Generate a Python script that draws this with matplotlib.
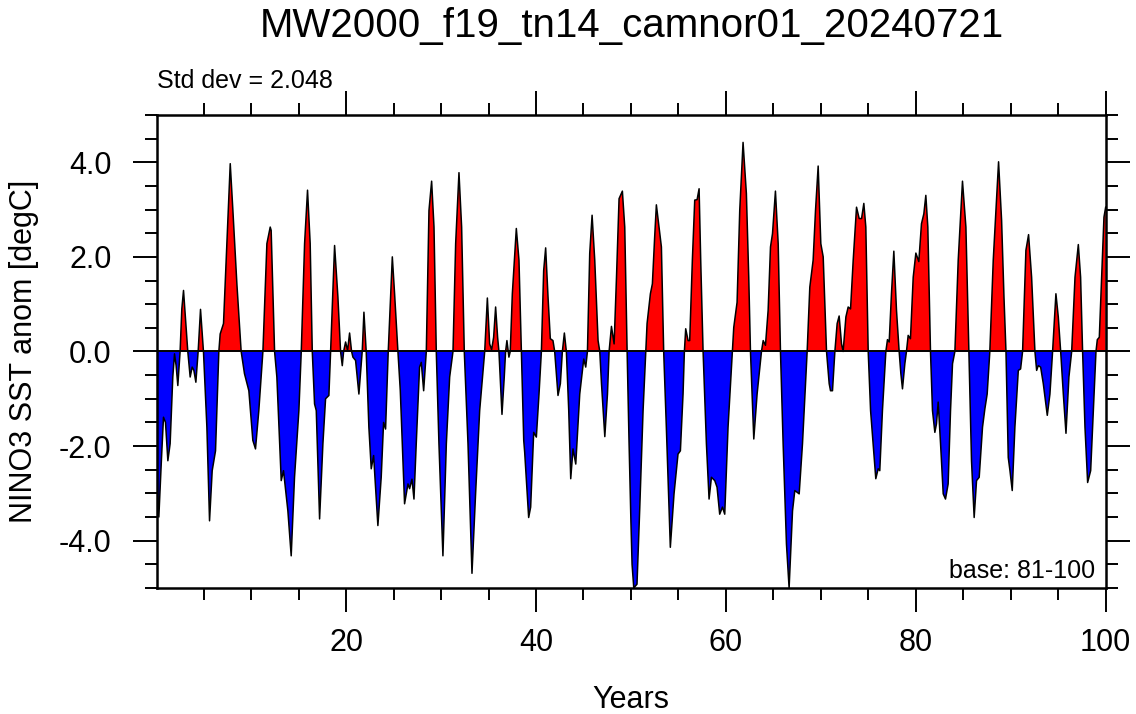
import numpy as np
import matplotlib
matplotlib.use("Agg")
import matplotlib.pyplot as plt
from matplotlib.ticker import MultipleLocator, FixedLocator

plt.rcParams['font.family'] = ['Liberation Sans', 'DejaVu Sans']
plt.rcParams['axes.unicode_minus'] = False

# ---------- data -----------------------------------------------------------
title = "MW2000_f19_tn14_camnor01_20240721"
std_txt = "Std dev = 2.048"
base_txt = "base: 81-100"

years = [0.05, 0.28, 0.55, 0.77, 0.98, 1.23, 1.47, 1.75, 1.93, 2.1, 2.28, 2.52, 2.7, 2.88, 3.05,
         3.33, 3.58, 3.79, 3.97, 4.18, 4.42, 4.67, 4.98, 5.34, 5.62, 5.9, 6.25, 6.6, 6.74, 7.09,
         7.44, 7.8, 8.08, 8.5, 8.95, 9.3, 9.76, 10.18, 10.46, 10.81, 11.24, 11.66, 12.01, 12.11,
         12.47, 12.71, 13.17, 13.41, 13.87, 14.22, 14.57, 15.03, 15.28, 15.63, 15.94, 16.22,
         16.44, 16.68, 16.86, 17.21, 17.56, 17.84, 18.19, 18.37, 18.79, 19.14, 19.42, 19.6,
         19.74, 19.95, 20.16, 20.37, 20.58, 20.72, 21.0, 21.35, 21.6, 21.7, 21.88, 22.12, 22.4,
         22.65, 22.9, 23.35, 23.7, 23.95, 24.16, 24.44, 24.87, 25.11, 25.46, 25.71, 26.16,
         26.52, 26.69, 26.94, 27.15, 27.39, 27.74, 27.92, 28.17, 28.45, 28.73, 29.01, 29.26,
         29.5, 29.78, 30.2, 30.56, 30.91, 31.26, 31.54, 31.89, 32.17, 32.45, 32.84, 33.26,
         33.64, 34.07, 34.6, 34.88, 35.12, 35.33, 35.54, 35.75, 35.96, 36.1, 36.42, 36.66,
         36.8, 36.94, 37.15, 37.29, 37.51, 37.93, 38.21, 38.46, 38.71, 38.81, 39.23, 39.44,
         39.76, 40.04, 40.32, 40.57, 40.81, 41.02, 41.27, 41.51, 41.79, 41.97, 42.32, 42.57,
         42.78, 42.99, 43.2, 43.45, 43.66, 43.9, 44.19, 44.61, 45.03, 45.24, 45.42, 45.66,
         45.91, 46.19, 46.54, 46.72, 46.9, 47.25, 47.53, 47.7, 47.95, 48.23, 48.48, 48.75,
         49.1, 49.35, 49.6, 49.8, 50.0, 50.12, 50.3, 50.64, 50.92, 51.28, 51.56, 51.7, 52.05,
         52.26, 52.5, 52.68, 52.96, 53.21, 53.45, 53.73, 54.15, 54.54, 54.96, 55.21, 55.49,
         55.63, 55.77, 56.02, 56.19, 56.47, 56.72, 56.97, 57.18, 57.35, 57.6, 57.95, 58.23,
         58.48, 58.83, 59.07, 59.35, 59.64, 59.88, 60.23, 60.69, 60.83, 61.18, 61.46, 61.81,
         62.16, 62.41, 62.59, 62.94, 63.29, 63.75, 63.93, 64.17, 64.45, 64.7, 64.91, 65.22,
         65.51, 65.75, 66.03, 66.38, 66.66, 67.02, 67.26, 67.72, 68.07, 68.56, 68.84, 69.19,
         69.44, 69.72, 70.0, 70.25, 70.6, 70.88, 71.02, 71.23, 71.48, 71.72, 71.93, 72.18,
         72.35, 72.64, 72.88, 73.13, 73.41, 73.76, 74.04, 74.29, 74.53, 74.74, 74.99, 75.24,
         75.51, 75.79, 76.04, 76.21, 76.49, 76.85, 77.02, 77.2, 77.44, 77.69, 77.97, 78.25,
         78.43, 78.6, 78.85, 79.02, 79.2, 79.44, 79.73, 80.01, 80.32, 80.6, 80.85, 81.06,
         81.27, 81.55, 81.76, 82.01, 82.18, 82.36, 82.61, 82.89, 83.13, 83.41, 83.66, 83.87,
         84.12, 84.47, 84.92, 85.28, 85.59, 85.87, 86.15, 86.4, 86.68, 87.03, 87.28, 87.52,
         87.8, 88.16, 88.72, 89.04, 89.29, 89.5, 89.74, 89.92, 90.16, 90.44, 90.8, 91.04,
         91.25, 91.6, 91.88, 92.2, 92.55, 92.73, 92.9, 93.15, 93.43, 93.85, 94.13, 94.41,
         94.76, 95.01, 95.26, 95.54, 95.82, 96.13, 96.42, 96.77, 97.12, 97.36, 97.57, 97.82,
         98.1, 98.42, 98.7, 98.98, 99.12, 99.33, 99.58, 99.82, 100.0]

anom = [-2.7, -3.5, -2.3, -1.39, -1.5, -2.31, -1.95, -0.54, -0.05, -0.3, -0.72, 0.0, 0.9, 1.29, 0.8,
        0.0, -0.54, -0.33, -0.4, -0.65, 0.0, 0.89, 0.0, -1.6, -3.58, -2.52, -2.1, 0.0, 0.37, 0.59,
        2.28, 3.97, 2.98, 1.43, 0.0, -0.47, -0.83, -1.88, -2.06, -1.25, 0.0, 2.28, 2.63, 2.56,
        0.0, -0.54, -2.73, -2.52, -3.37, -4.32, -2.66, -1.25, 0.0, 2.28, 3.41, 2.28,
        0.0, -1.11, -1.25, -3.54, -1.95, -1.0, -0.93, 0.0, 2.24, 1.15, 0.0, -0.3,
        0.0, 0.2, 0.02, 0.39, 0.0, -0.12, -0.19, -0.9, -0.26, 0.0, 0.83, 0.0, -1.6,
        -2.48, -2.2, -3.68, -2.66, -1.5, -1.64, 0.0, 2.0, 1.22, 0.0, -0.83, -3.22,
        -2.8, -2.9, -2.7, -3.12, -1.95, -0.33, -0.23, -0.83, 0.0, 2.98, 3.6, 2.63,
        0.0, -1.95, -4.32, -1.95, -0.54, 0.0, 2.28, 3.78, 2.63, 0.0, -1.95, -4.69,
        -3.01, -1.25, 0.0, 1.13, 0.16, 0.04, 0.3, 0.94, 0.3, 0.0, -1.33, -0.54,
        0.0, 0.23, -0.12, 0.0, 1.22, 2.6, 1.93, 0.0, -1.88, -2.13, -3.51, -3.29,
        -1.71, -1.81, -0.9, 0.0, 1.71, 2.19, 1.15, 0.27, 0.23, 0.0, -0.93, -0.68,
        0.0, 0.39, 0.0, -1.25, -2.69, -2.06, -2.38, -0.9, -0.16, -0.33, 0.0, 2.07,
        2.88, 1.93, 0.23, 0.0, -0.68, -1.8, -0.9, 0.0, 0.53, 0.16, 1.57, 3.23,
        3.39, 2.63, 0.0, -1.9, -3.6, -4.5, -5.0, -4.92, -3.37, -1.25, 0.0, 0.59, 1.22,
        1.43, 2.42, 3.1, 2.63, 2.21, 0.0, -1.6, -4.14, -3.01, -2.17, -2.1, -0.9,
        0.0, 0.48, 0.23, 0.23, 1.93, 3.2, 3.21, 3.44, 1.93, 0.0, -1.95, -3.12,
        -2.66, -2.73, -2.87, -3.44, -3.29, -3.44, -1.6, 0.0, 0.51, 1.04, 2.98, 4.42,
        3.34, 1.57, 0.0, -1.85, -0.9, 0.0, 0.23, 0.13, 0.87, 2.21, 2.49, 3.39,
        2.28, 0.0, -1.95, -4.07, -5.0, -3.37, -2.94, -3.01, -1.95, 0.0, 1.36, 1.93,
        2.98, 3.92, 2.28, 2.0, 0.0, -0.68, -0.83, -0.83, 0.0, 0.59, 0.75, 0.16,
        0.0, 0.73, 0.94, 0.9, 1.93, 3.05, 2.81, 2.81, 3.13, 2.63, 0.0, -1.25,
        -1.95, -2.69, -2.48, -2.52, -1.25, 0.0, 0.25, 0.2, 1.22, 2.12, 0.87, 0.0,
        -0.47, -0.79, -0.26, 0.0, 0.34, 0.27, 1.57, 2.08, 1.9, 2.7, 2.91, 3.3,
        2.63, 0.0, -1.25, -1.71, -1.53, -1.07, -1.95, -3.01, -3.12, -2.8, -1.25, -0.26,
        0.0, 1.93, 3.6, 2.63, 0.0, -2.31, -3.51, -2.73, -2.66, -1.6, -1.21, -0.9,
        0.0, 1.93, 4.01, 2.77, 1.15, 0.0, -2.24, -2.52, -2.94, -1.6, -0.4, -0.37,
        0.0, 2.14, 2.47, 1.57, 0.0, -0.4, -0.3, -0.33, -0.68, -1.35, -0.9, 0.0,
        1.22, 0.73, 0.0, -0.9, -1.73, -0.54, 0.0, 1.57, 2.26, 1.57, 0.0, -1.6,
        -2.77, -2.52, -1.25, 0.0, 0.25, 0.3, 1.57, 2.84, 3.05]

x_ticks = [20, 40, 60, 80, 100]
y_ticks = [-4.0, -2.0, 0.0, 2.0, 4.0]

# ---------------------------------------------------------------------------
x = np.array(years)
y = np.array(anom)

fig = plt.figure(figsize=(11.36, 7.14), dpi=100)
ax = fig.add_axes([0.1379, 0.1765, 0.8354, 0.6625])

ax.fill_between(x, y, 0, where=y >= 0, interpolate=True, color='#ff0000', lw=0)
ax.fill_between(x, y, 0, where=y <= 0, interpolate=True, color='#0000ff', lw=0)
ax.plot(x, y, color='black', lw=1.1)
ax.axhline(0, color='black', lw=1.4)

ax.set_xlim(0.05, 100)
ax.set_ylim(-5, 5)
ax.xaxis.set_major_locator(FixedLocator(x_ticks))
ax.xaxis.set_minor_locator(MultipleLocator(5))
ax.yaxis.set_major_locator(FixedLocator(y_ticks))
ax.yaxis.set_minor_locator(MultipleLocator(0.5))
ax.set_yticklabels([f"{v:.1f}" for v in y_ticks])

ax.tick_params(which='both', direction='out', top=True, right=True,
               labeltop=False, labelright=False, width=1.4)
ax.tick_params(which='major', length=17.5, labelsize=22)
ax.tick_params(which='minor', length=8.5)
ax.tick_params(axis='x', which='major', pad=11)
ax.tick_params(axis='y', which='major', pad=15)
for s in ax.spines.values():
    s.set_linewidth(1.8)

ax.set_xlabel("Years", fontsize=22, labelpad=20)
ax.set_ylabel("NINO3 SST anom [degC]", fontsize=22, labelpad=14)

fig.text(0.556, 0.948, title, fontsize=29, ha='center', va='baseline')
fig.text(0.138, 0.877, std_txt, fontsize=18, ha='left', va='baseline')
ax.text(0.9887, 0.0205, base_txt, fontsize=18, ha='right', va='baseline',
        transform=ax.transAxes)

fig.savefig("out.png", dpi=100)
